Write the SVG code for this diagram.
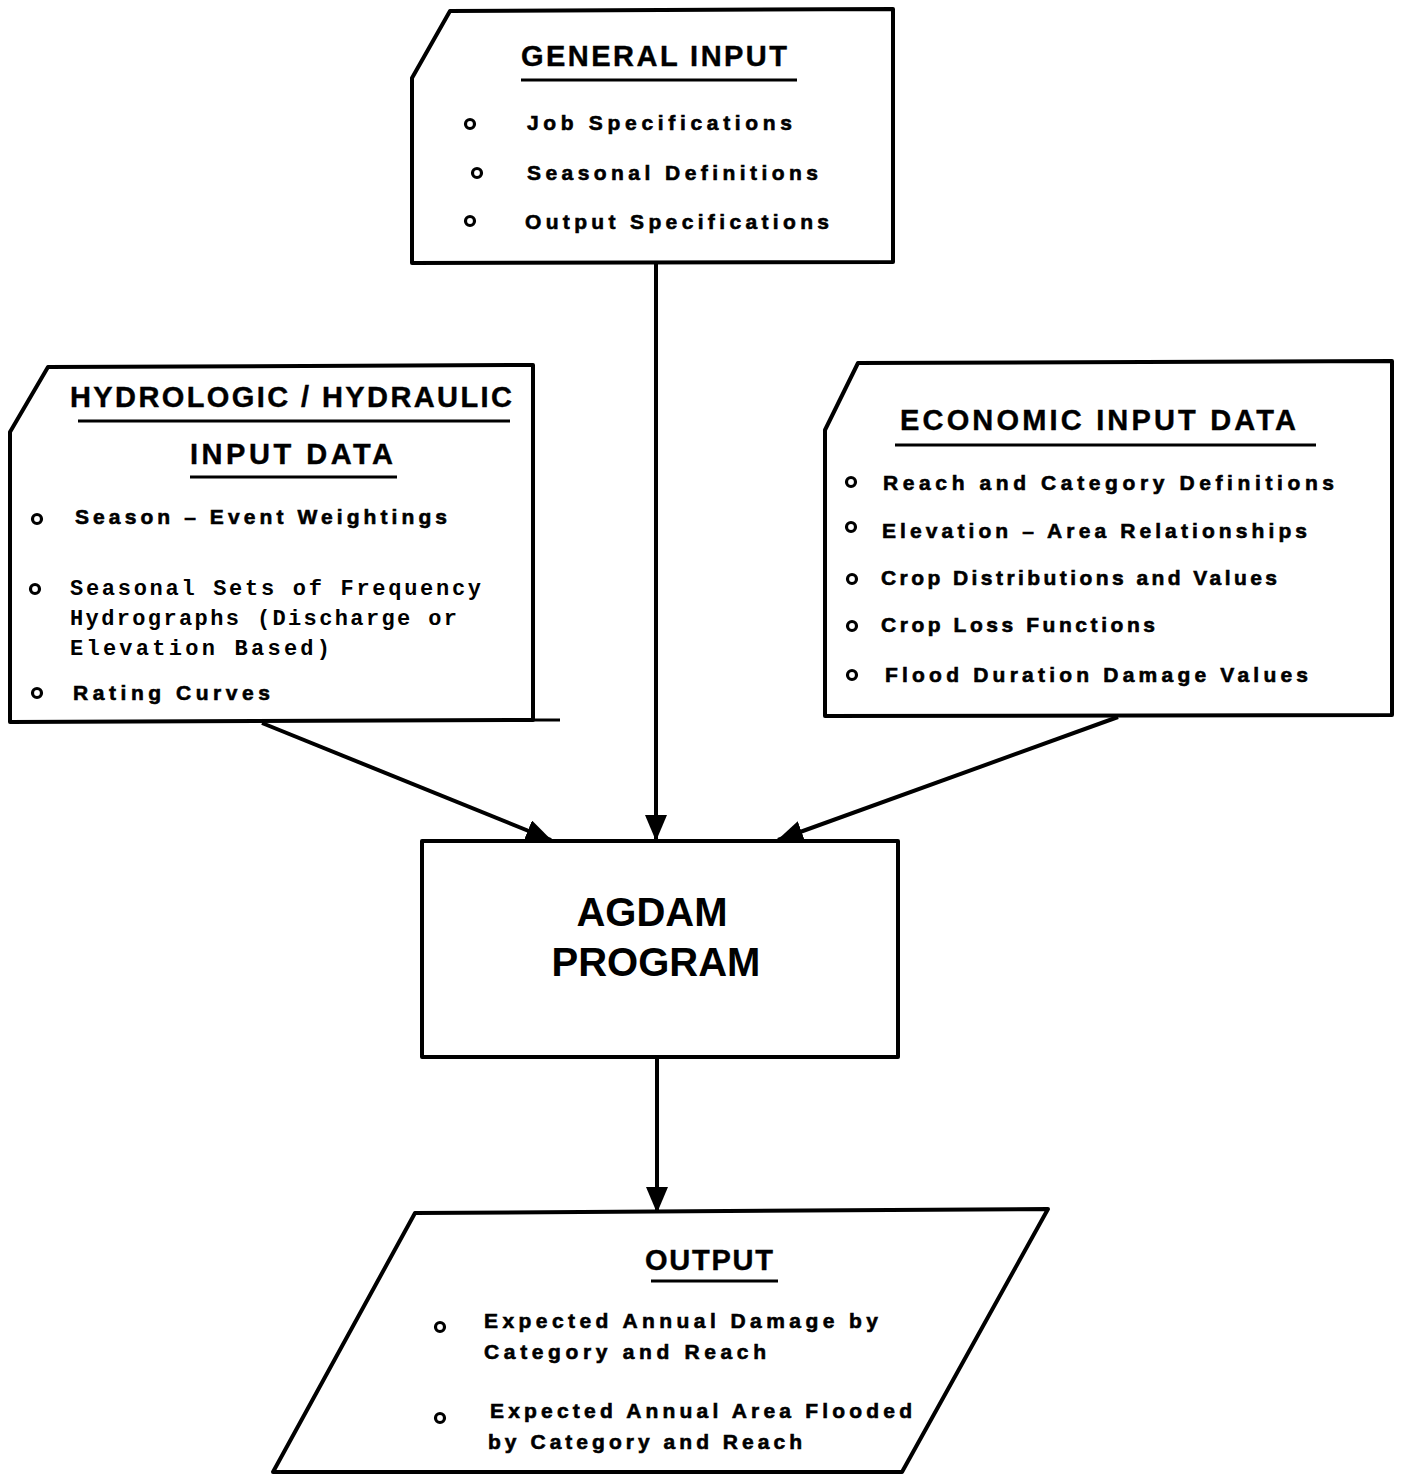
<svg xmlns="http://www.w3.org/2000/svg" width="1403" height="1475" viewBox="0 0 1403 1475">
<style>
.box{fill:#fff;stroke:#000;stroke-width:4;stroke-linejoin:round}
.ul{stroke:#000;stroke-width:3}
.con{stroke:#000;stroke-width:4;fill:none}
.bul{fill:#fff;stroke:#000;stroke-width:3.2}
.t{font-family:"Liberation Sans",Arial,sans-serif;font-weight:bold;fill:#000}
.title{font-size:29px;stroke:#000;stroke-width:0.4}
.item{font-size:21px;stroke:#000;stroke-width:0.6}
.mono{font-family:"Liberation Mono","DejaVu Sans Mono",monospace;font-weight:bold;font-size:22px;fill:#000}
.big{font-size:40px}
</style>
<defs>
<marker id="ah" markerUnits="userSpaceOnUse" markerWidth="26" markerHeight="22" refX="25" refY="11" orient="auto">
<path d="M0,0 L26,11 L0,22 z" fill="#000"/>
</marker>
</defs>
<rect width="1403" height="1475" fill="#fff"/>
<g id="connectors">
<path class="con" d="M656,262 L656,840" marker-end="url(#ah)"/>
<path class="con" d="M262,723 L551,840" marker-end="url(#ah)"/>
<path class="con" d="M1118,717 L778,840" marker-end="url(#ah)"/>
<path class="con" d="M657,1057 L657,1212" marker-end="url(#ah)"/>
</g>
<g id="general-input">
<path class="box" d="M450,11 L893,9 L893,262 L412,263 L412,78 Z"/>
<text class="t title" x="521" y="66" textLength="266" lengthAdjust="spacing">GENERAL INPUT</text>
<line class="ul" x1="521" y1="80" x2="797" y2="80"/>
<circle class="bul" cx="470" cy="124" r="4.5"/>
<text class="t item" x="527" y="130" textLength="265" lengthAdjust="spacing">Job Specifications</text>
<circle class="bul" cx="477" cy="173" r="4.5"/>
<text class="t item" x="527" y="180" textLength="291" lengthAdjust="spacing">Seasonal Definitions</text>
<circle class="bul" cx="470" cy="221" r="4.5"/>
<text class="t item" x="525" y="229" textLength="304" lengthAdjust="spacing">Output Specifications</text>
</g>
<g id="hydrologic-input">
<path class="box" d="M48,367 L533,365 L533,720 L10,722 L10,432 Z"/>
<line class="ul" x1="533" y1="720" x2="560" y2="720" stroke-width="2"/>
<text class="t title" x="70" y="407" textLength="442" lengthAdjust="spacing">HYDROLOGIC / HYDRAULIC</text>
<line class="ul" x1="78" y1="421" x2="510" y2="421"/>
<text class="t title" x="190" y="464" textLength="203" lengthAdjust="spacing">INPUT DATA</text>
<line class="ul" x1="190" y1="477" x2="397" y2="477"/>
<circle class="bul" cx="37" cy="519" r="4.5"/>
<text class="t item" x="75" y="524" textLength="372" lengthAdjust="spacing">Season – Event Weightings</text>
<circle class="bul" cx="35" cy="589" r="4.5"/>
<text class="mono" x="70" y="595" textLength="411" lengthAdjust="spacing">Seasonal Sets of Frequency</text>
<text class="mono" x="70" y="625" textLength="387" lengthAdjust="spacing">Hydrographs (Discharge or</text>
<text class="mono" x="70" y="655" textLength="260" lengthAdjust="spacing">Elevation Based)</text>
<circle class="bul" cx="37" cy="693" r="4.5"/>
<text class="t item" x="73" y="700" textLength="197" lengthAdjust="spacing">Rating Curves</text>
</g>
<g id="economic-input">
<path class="box" d="M858,363 L1392,361 L1392,715 L825,716 L825,430 Z"/>
<text class="t title" x="900" y="430" textLength="396" lengthAdjust="spacing">ECONOMIC INPUT DATA</text>
<line class="ul" x1="895" y1="445" x2="1316" y2="445"/>
<circle class="bul" cx="851" cy="482" r="4.5"/>
<text class="t item" x="883" y="490" textLength="451" lengthAdjust="spacing">Reach and Category Definitions</text>
<circle class="bul" cx="851" cy="527" r="4.5"/>
<text class="t item" x="882" y="538" textLength="425" lengthAdjust="spacing">Elevation – Area Relationships</text>
<circle class="bul" cx="852" cy="579" r="4.5"/>
<text class="t item" x="881" y="585" textLength="396" lengthAdjust="spacing">Crop Distributions and Values</text>
<circle class="bul" cx="852" cy="626" r="4.5"/>
<text class="t item" x="881" y="632" textLength="274" lengthAdjust="spacing">Crop Loss Functions</text>
<circle class="bul" cx="852" cy="675" r="4.5"/>
<text class="t item" x="885" y="682" textLength="423" lengthAdjust="spacing">Flood Duration Damage Values</text>
</g>
<g id="agdam-program">
<rect class="box" x="422" y="841" width="476" height="216"/>
<text class="t big" x="652" y="926" text-anchor="middle">AGDAM</text>
<text class="t big" x="656" y="976" text-anchor="middle">PROGRAM</text>
</g>
<g id="output">
<path class="box" d="M415,1213 L1048,1209 L902,1472 L273,1472 Z"/>
<text class="t title" x="645" y="1270" textLength="128" lengthAdjust="spacing">OUTPUT</text>
<line class="ul" x1="651" y1="1281" x2="778" y2="1281"/>
<circle class="bul" cx="440" cy="1327" r="4.5"/>
<text class="t item" x="484" y="1328" textLength="394" lengthAdjust="spacing">Expected Annual Damage by</text>
<text class="t item" x="484" y="1359" textLength="282" lengthAdjust="spacing">Category and Reach</text>
<circle class="bul" cx="440" cy="1418" r="4.5"/>
<text class="t item" x="490" y="1418" textLength="422" lengthAdjust="spacing">Expected Annual Area Flooded</text>
<text class="t item" x="488" y="1449" textLength="314" lengthAdjust="spacing">by Category and Reach</text>
</g>
</svg>
